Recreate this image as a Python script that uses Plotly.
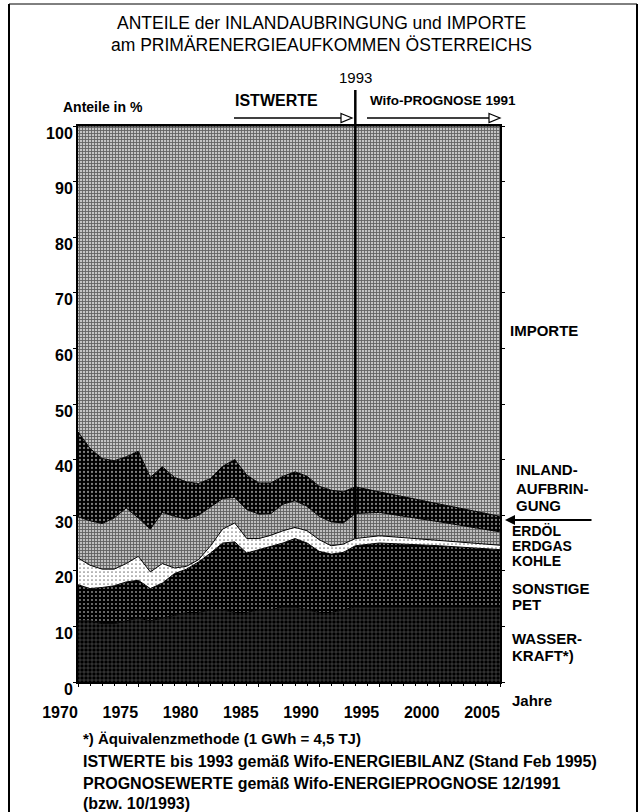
import plotly.graph_objects as go

# ---------------- data (shares in % of primary energy supply) ----------------
years = [1970, 1971, 1972, 1973, 1974, 1975, 1976, 1977, 1978, 1979, 1980, 1981,
         1982, 1983, 1984, 1985, 1986, 1987, 1988, 1989, 1990, 1991, 1992, 1993,
         1995, 2000, 2005]
wasserkraft = [11, 11, 10.5, 10.5, 11, 11.5, 11, 11.5, 12, 12.5, 12.5, 13,
               13, 12.5, 12.5, 13, 13, 13.5, 13.5, 13, 12.5, 12.5, 13, 13.5,
               13.5, 13.5, 13.5]
sonstige_pet = [6.5, 5.8, 6.5, 6.8, 7.0, 6.8, 5.8, 6.3, 7.5, 7.8, 9.1, 10.2,
                12, 12.7, 10.7, 10.8, 11.5, 11.5, 12.3, 12, 11, 10.5, 10.3, 11,
                11.5, 11, 10.3]
kohle = [4.8, 4.2, 3.3, 3.0, 3.3, 4.3, 3.0, 3.5, 1.0, 0.5, 0.4, 1.3,
         2.5, 3.4, 2.6, 2.0, 1.9, 2.2, 2.0, 2.2, 2.1, 1.5, 1.5, 1.3,
         1.3, 0.9, 0.8]
erdgas = [7.4, 8.0, 8.2, 9.2, 10.0, 6.9, 7.7, 9.2, 9.3, 8.5, 8.0, 7.0,
          5.5, 4.6, 5.2, 4.4, 3.9, 4.8, 4.8, 4.4, 4.2, 4.3, 3.8, 4.5,
          4.2, 3.4, 2.4]
erdoel = [15.3, 13.0, 11.7, 10.3, 9.2, 12.0, 9.3, 8.2, 7.0, 6.7, 5.7, 5.1,
          5.8, 6.8, 6.2, 5.6, 5.5, 5.0, 5.2, 5.4, 5.4, 5.7, 5.6, 4.8,
          3.7, 3.2, 2.8]
importe = [55, 58, 59.8, 60.2, 59.5, 58.5, 63.2, 61.3, 63.2, 64, 64.3, 63.4,
           61.2, 60, 62.8, 64.2, 64.2, 63, 62.2, 63, 64.8, 65.5, 65.8, 64.9,
           65.8, 68, 70.2]

year_ticks = [1970, 1975, 1980, 1985, 1990, 1995, 2000, 2005]
pct_ticks = [0, 10, 20, 30, 40, 50, 60, 70, 80, 90, 100]
split_year = 1993

FONT = "Liberation Sans, Arial, sans-serif"

# ---------------- layout geometry ----------------
W, H = 641, 812
L, R, T, B = 78, 500, 126, 682   # plot area in pixels


def px(x, y):
    return (x - L) / (R - L), (B - y) / (B - T)


fig = go.Figure()

layers = [
    ("WASSERKRAFT", wasserkraft, dict(shape="+", bgcolor="#000000", fgcolor="#ffffff", size=4, solidity=0.2)),
    ("SONSTIGE PET", sonstige_pet, dict(shape=".", bgcolor="#000000", fgcolor="#ffffff", size=4, solidity=0.22)),
    ("KOHLE", kohle, dict(shape=".", bgcolor="#ffffff", fgcolor="#000000", size=4, solidity=0.15)),
    ("ERDGAS", erdgas, dict(shape="+", bgcolor="#bdbdbd", fgcolor="#000000", size=3, solidity=0.5)),
    ("ERDÖL", erdoel, dict(shape=".", bgcolor="#000000", fgcolor="#ffffff", size=4, solidity=0.25)),
    ("IMPORTE", importe, dict(shape="+", bgcolor="#c4c4c4", fgcolor="#000000", size=3, solidity=0.5)),
]
for name, vals, pat in layers:
    fig.add_trace(go.Scatter(
        x=years, y=vals, name=name, mode="lines", stackgroup="one",
        line=dict(color="black", width=1), fillpattern=pat,
        fillcolor=pat["bgcolor"], hoverinfo="skip", showlegend=False))

shapes = []
# vertical 1993 separator (from top of KOHLE up through the header)
idx = years.index(split_year)
base = wasserkraft[idx] + sonstige_pet[idx] + kohle[idx]
shapes.append(dict(type="line", xref="x", yref="paper", x0=split_year, x1=split_year,
                   y0=base / 100, y1=px(0, 90)[1], line=dict(color="black", width=2.5)))


def open_arrow(x_start, x_tip, y, head=11, half=4.5):
    a = px(x_start, y)
    b = px(x_tip - head, y)
    shapes.append(dict(type="line", xref="paper", yref="paper", x0=a[0], y0=a[1], x1=b[0], y1=b[1],
                       line=dict(color="black", width=1.5)))
    p1 = px(x_tip - head, y - half)
    p2 = px(x_tip, y)
    p3 = px(x_tip - head, y + half)
    shapes.append(dict(type="path", xref="paper", yref="paper",
                       path=f"M{p1[0]},{p1[1]} L{p2[0]},{p2[1]} L{p3[0]},{p3[1]} Z",
                       fillcolor="white", line=dict(color="black", width=1.2)))


open_arrow(234, 352, 118)
open_arrow(367, 500, 118)


def seg(x0, y0, x1, y1, w=2):
    a, b = px(x0, y0), px(x1, y1)
    shapes.append(dict(type="line", xref="paper", yref="paper", x0=a[0], y0=a[1], x1=b[0], y1=b[1],
                       line=dict(color="black", width=w)))


# outer frame
seg(9, 4, 9, 812)
seg(637, 4, 637, 812)
seg(9, 4, 637, 4, 1)

annotations = []


def text(s, x, y, size=15, anchor="left", bold=False):
    p = px(x, y)
    annotations.append(dict(text=s, xref="paper", yref="paper",
                            x=p[0], y=p[1], xanchor=anchor, yanchor="middle", showarrow=False,
                            font=dict(family=FONT, size=size, color="black",
                                      weight=("bold" if bold else "normal"))))


text("ANTEILE der INLANDAUBRINGUNG und IMPORTE", 321, 23, 17.5, "center")
text("am PRIMÄRENERGIEAUFKOMMEN ÖSTERREICHS", 321, 45, 17.5, "center")
text("1993", 355, 77, 15, "center")
text("ISTWERTE", 233, 100, 16, "left", True)
text("Wifo-PROGNOSE 1991", 368, 100, 13.5, "left", True)
text("Anteile in %", 61, 107, 14, "left", True)

text("IMPORTE", 508, 330, 15, "left", True)
text("INLAND-", 514, 470, 15, "left", True)
text("AUFBRIN-", 514, 488, 15, "left", True)
text("GUNG", 514, 505, 15, "left", True)
text("ERDÖL", 510, 531, 14, "left", True)
text("ERDGAS", 510, 546, 14, "left", True)
text("KOHLE", 510, 561, 14, "left", True)
text("SONSTIGE", 510, 588, 15, "left", True)
text("PET", 510, 604, 15, "left", True)
text("WASSER-", 510, 638, 15, "left", True)
text("KRAFT*)", 510, 655, 15, "left", True)
text("Jahre", 510, 700, 15, "left", True)

text("*) Äquivalenzmethode (1 GWh = 4,5 TJ)", 81, 738, 15, "left", True)
text("ISTWERTE bis 1993 gemäß Wifo-ENERGIEBILANZ (Stand Feb 1995)", 81, 761, 16, "left", True)
text("PROGNOSEWERTE gemäß Wifo-ENERGIEPROGNOSE 12/1991", 81, 783, 16, "left", True)
text("(bzw. 10/1993)", 81, 803, 16, "left", True)

# INLANDAUFBRINGUNG pointer arrow
pa = px(505, 520)
annotations.append(dict(text="", xref="paper", yref="paper", x=pa[0], y=pa[1], ax=88, ay=0,
                        showarrow=True, arrowhead=2, arrowsize=1, arrowwidth=2, arrowcolor="black"))

fig.update_layout(
    width=W, height=H,
    margin=dict(l=L, r=W - R, t=T, b=H - B, pad=0),
    paper_bgcolor="white", plot_bgcolor="white",
    shapes=shapes, annotations=annotations,
    font=dict(family=FONT, color="black"),
    showlegend=False,
)
fig.update_xaxes(range=[1970, 2005], tickvals=year_ticks, ticktext=[str(y) for y in year_ticks],
                 showline=True, linewidth=2, linecolor="black", mirror=True,
                 ticks="outside", ticklen=3, tickcolor="black",
                 minor=dict(dtick=1, ticks="outside", ticklen=2, tickcolor="black"),
                 showgrid=False, zeroline=False, ticklabelshift=-18, ticklabelstandoff=12,
                 tickfont=dict(family=FONT, size=16, color="black", weight="bold"))
fig.update_yaxes(range=[0, 100], tickvals=pct_ticks,
                 showline=True, linewidth=2, linecolor="black", mirror="ticks",
                 ticks="outside", ticklen=3, tickcolor="black",
                 showgrid=False, zeroline=False, ticklabelshift=7, ticklabelstandoff=-3,
                 tickfont=dict(family=FONT, size=16, color="black", weight="bold"))

fig.write_html("out.html", config={"displayModeBar": False, "staticPlot": True},
               post_script="document.body.style.margin='0px';")
